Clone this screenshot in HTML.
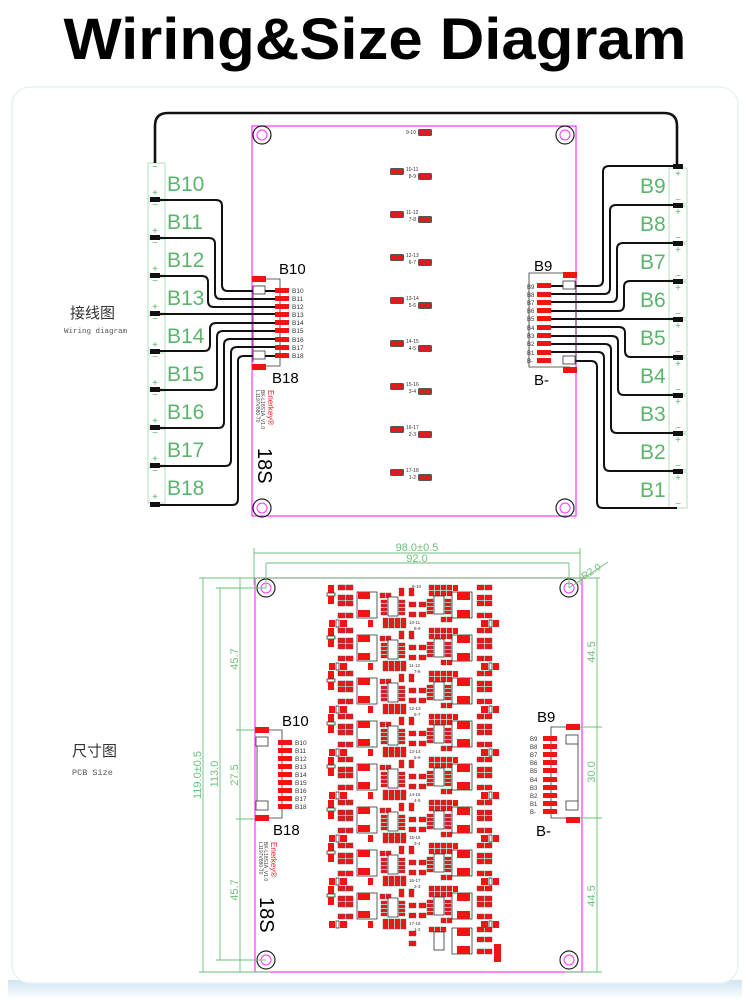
<!DOCTYPE html>
<html><head><meta charset="utf-8"><style>
html,body{margin:0;padding:0;background:#fff;width:750px;height:1000px;overflow:hidden}
svg{display:block}
</style></head><body>
<svg width="750" height="1000" viewBox="0 0 750 1000" xmlns="http://www.w3.org/2000/svg" font-family="Liberation Sans, sans-serif">
<defs>
<linearGradient id="sh" x1="0" y1="0" x2="0" y2="1"><stop offset="0" stop-color="#cfe6ee"/><stop offset="1" stop-color="#ffffff"/></linearGradient>
<g id="blk">
  <rect x="3" y="0" width="6" height="8" fill="#f01414"/>
  <rect x="2" y="8" width="8" height="3" fill="#fff" stroke="#333" stroke-width="0.8"/>
  <rect x="3" y="11" width="6" height="8" fill="#f01414"/>
  <g fill="#f01414" stroke="#555" stroke-width="0.5">
  <rect x="13" y="0" width="7" height="5"/><rect x="21" y="0" width="7" height="5"/>
  <rect x="13" y="10" width="7" height="5"/><rect x="21" y="10" width="7" height="5"/>
  <rect x="13" y="16" width="7" height="5"/><rect x="21" y="16" width="7" height="5"/>
  <rect x="13" y="28" width="7" height="5"/><rect x="21" y="28" width="7" height="5"/>
  </g>
  <rect x="4" y="35" width="6" height="7" fill="#f01414"/><rect x="11" y="35" width="3" height="7" fill="#fff" stroke="#333" stroke-width="0.8"/><rect x="15" y="35" width="7" height="7" fill="#f01414"/>
  <rect x="32" y="7" width="20" height="26" fill="none" stroke="#333" stroke-width="0.8"/>
  <rect x="33" y="7" width="12" height="7" fill="#f01414"/><rect x="33" y="25" width="12" height="7" fill="#f01414"/>
  <rect x="43" y="35" width="5" height="7" fill="#f01414"/>
  <g fill="#f01414" stroke="#555" stroke-width="0.4">
  <rect x="55" y="8" width="5" height="5"/><rect x="61" y="8" width="5" height="5"/>
  <rect x="56" y="15" width="6" height="3"/><rect x="56" y="19" width="6" height="3"/><rect x="56" y="23" width="6" height="3"/><rect x="56" y="27" width="6" height="3"/>
  <rect x="74" y="15" width="6" height="3"/><rect x="74" y="19" width="6" height="3"/><rect x="74" y="23" width="6" height="3"/><rect x="74" y="27" width="6" height="3"/>
  <rect x="58" y="33" width="5" height="5"/><rect x="64" y="33" width="5" height="5"/><rect x="70" y="33" width="5" height="5"/><rect x="76" y="33" width="5" height="5"/>
  <rect x="58" y="38" width="5" height="5"/><rect x="64" y="38" width="5" height="5"/><rect x="70" y="38" width="5" height="5"/><rect x="76" y="38" width="5" height="5"/>
  <rect x="74" y="3" width="5" height="8"/><rect x="84" y="3" width="5" height="8"/>
  <rect x="84" y="17" width="7" height="5"/><rect x="84" y="27" width="7" height="5"/>
  <rect x="94" y="17" width="7" height="5"/><rect x="94" y="27" width="7" height="5"/>
  <rect x="104" y="0" width="5" height="5"/><rect x="110" y="0" width="5" height="5"/><rect x="116" y="0" width="5" height="5"/><rect x="122" y="0" width="5" height="5"/>
  <rect x="104" y="6" width="5" height="5"/><rect x="110" y="6" width="5" height="5"/><rect x="116" y="6" width="5" height="5"/><rect x="122" y="6" width="5" height="5"/>
  <rect x="102" y="14" width="6" height="3"/><rect x="102" y="18" width="6" height="3"/><rect x="102" y="22" width="6" height="3"/><rect x="102" y="26" width="6" height="3"/>
  <rect x="120" y="14" width="6" height="3"/><rect x="120" y="18" width="6" height="3"/><rect x="120" y="22" width="6" height="3"/><rect x="120" y="26" width="6" height="3"/>
  <rect x="116" y="32" width="5" height="5"/><rect x="122" y="32" width="5" height="5"/>
  <rect x="152" y="0" width="7" height="5"/><rect x="160" y="0" width="7" height="5"/>
  <rect x="152" y="10" width="7" height="5"/><rect x="160" y="10" width="7" height="5"/>
  <rect x="152" y="16" width="7" height="5"/><rect x="160" y="16" width="7" height="5"/>
  <rect x="152" y="28" width="7" height="5"/><rect x="160" y="28" width="7" height="5"/>
  </g>
  <rect x="63" y="12" width="10" height="19" fill="#fff" stroke="#333" stroke-width="0.8"/>
  <rect x="109" y="11" width="10" height="18" fill="#fff" stroke="#333" stroke-width="0.8"/>
  <rect x="127" y="7" width="20" height="26" fill="none" stroke="#333" stroke-width="0.8"/>
  <rect x="132" y="7" width="13" height="8" fill="#f01414"/><rect x="132" y="25" width="13" height="8" fill="#f01414"/>
  <rect x="128" y="0" width="5" height="6" fill="#f01414"/>
  <rect x="156" y="35" width="7" height="7" fill="#f01414"/><rect x="164" y="35" width="3" height="7" fill="#fff" stroke="#333" stroke-width="0.8"/><rect x="168" y="35" width="6" height="7" fill="#f01414"/>
</g>
<g id="pair"><rect x="0" y="0" width="14" height="7" rx="1.5" fill="#555"/><rect x="1.5" y="1" width="5" height="5" fill="#f01414"/><rect x="7.5" y="1" width="5" height="5" fill="#f01414"/></g>
</defs>

<text x="375" y="59" text-anchor="middle" font-size="58" font-weight="bold" textLength="623" lengthAdjust="spacingAndGlyphs">Wiring&amp;Size  Diagram</text>

<rect x="8" y="980" width="734" height="20" fill="url(#sh)"/>
<rect x="12" y="87" width="726" height="896" rx="18" fill="#fff" stroke="#e8f1f4" stroke-width="1.5"/>

<!-- ===== TOP WIRING ===== -->
<rect x="252" y="126" width="324" height="390" fill="none" stroke="#ff33ff" stroke-width="1.2"/>
<g fill="none" stroke="#222" stroke-width="1.2">
<circle cx="262" cy="135" r="9"/><circle cx="565" cy="135" r="9"/><circle cx="262" cy="508" r="9"/><circle cx="565" cy="508" r="9"/>
</g>
<g fill="none" stroke="#ff33ff" stroke-width="1"><circle cx="262" cy="135" r="5"/><circle cx="565" cy="135" r="5"/><circle cx="262" cy="508" r="5"/><circle cx="565" cy="508" r="5"/></g>

<g font-size="5" fill="#333">
<use href="#pair" x="418" y="129"/><text x="416" y="134" text-anchor="end">9-10</text>
<g id="tp">
</g>
<use href="#pair" x="390" y="168"/><text x="406" y="171">10-11</text><use href="#pair" x="418" y="173"/><text x="416" y="178" text-anchor="end">8-9</text>
<use href="#pair" x="390" y="211"/><text x="406" y="214">11-12</text><use href="#pair" x="418" y="216"/><text x="416" y="221" text-anchor="end">7-8</text>
<use href="#pair" x="390" y="254"/><text x="406" y="257">12-13</text><use href="#pair" x="418" y="259"/><text x="416" y="264" text-anchor="end">6-7</text>
<use href="#pair" x="390" y="297"/><text x="406" y="300">13-14</text><use href="#pair" x="418" y="302"/><text x="416" y="307" text-anchor="end">5-6</text>
<use href="#pair" x="390" y="340"/><text x="406" y="343">14-15</text><use href="#pair" x="418" y="345"/><text x="416" y="350" text-anchor="end">4-5</text>
<use href="#pair" x="390" y="383"/><text x="406" y="386">15-16</text><use href="#pair" x="418" y="388"/><text x="416" y="393" text-anchor="end">3-4</text>
<use href="#pair" x="390" y="426"/><text x="406" y="429">16-17</text><use href="#pair" x="418" y="431"/><text x="416" y="436" text-anchor="end">2-3</text>
<use href="#pair" x="390" y="469"/><text x="406" y="472">17-18</text><use href="#pair" x="418" y="474"/><text x="416" y="479" text-anchor="end">1-2</text>
</g>

<!-- left cells -->
<g fill="none" stroke="#b5dcbc" stroke-width="1">
<rect x="148" y="163" width="17" height="36"/><rect x="148" y="201" width="17" height="36"/><rect x="148" y="239" width="17" height="36"/>
<rect x="148" y="277" width="17" height="36"/><rect x="148" y="315" width="17" height="36"/><rect x="148" y="353" width="17" height="36"/>
<rect x="148" y="391" width="17" height="36"/><rect x="148" y="429" width="17" height="36"/><rect x="148" y="467" width="17" height="36"/>
</g>
<g fill="#5cb46c" font-size="21">
<text x="167" y="191">B10</text><text x="167" y="229">B11</text><text x="167" y="267">B12</text><text x="167" y="305">B13</text><text x="167" y="343">B14</text><text x="167" y="381">B15</text><text x="167" y="419">B16</text><text x="167" y="457">B17</text><text x="167" y="495">B18</text>
</g>
<g fill="#5cb46c" font-size="10" text-anchor="middle">
<text x="155" y="170">−</text><text x="155" y="196">+</text><text x="155" y="208">−</text><text x="155" y="234">+</text><text x="155" y="246">−</text><text x="155" y="272">+</text>
<text x="155" y="284">−</text><text x="155" y="310">+</text><text x="155" y="322">−</text><text x="155" y="348">+</text><text x="155" y="360">−</text><text x="155" y="386">+</text>
<text x="155" y="398">−</text><text x="155" y="424">+</text><text x="155" y="436">−</text><text x="155" y="462">+</text><text x="155" y="474">−</text><text x="155" y="500">+</text>
</g>
<!-- right cells -->
<g fill="none" stroke="#b5dcbc" stroke-width="1">
<rect x="669" y="168" width="18" height="36"/><rect x="669" y="206" width="18" height="36"/><rect x="669" y="244" width="18" height="36"/>
<rect x="669" y="282" width="18" height="36"/><rect x="669" y="320" width="18" height="36"/><rect x="669" y="358" width="18" height="36"/>
<rect x="669" y="396" width="18" height="36"/><rect x="669" y="434" width="18" height="36"/><rect x="669" y="472" width="18" height="36"/>
</g>
<g fill="#5cb46c" font-size="21">
<text x="640" y="193">B9</text><text x="640" y="231">B8</text><text x="640" y="269">B7</text><text x="640" y="307">B6</text><text x="640" y="345">B5</text><text x="640" y="383">B4</text><text x="640" y="421">B3</text><text x="640" y="459">B2</text><text x="640" y="497">B1</text>
</g>
<g fill="#5cb46c" font-size="10" text-anchor="middle">
<text x="678" y="177">+</text><text x="678" y="203">−</text><text x="678" y="215">+</text><text x="678" y="241">−</text><text x="678" y="253">+</text><text x="678" y="279">−</text>
<text x="678" y="291">+</text><text x="678" y="317">−</text><text x="678" y="329">+</text><text x="678" y="355">−</text><text x="678" y="367">+</text><text x="678" y="393">−</text>
<text x="678" y="405">+</text><text x="678" y="431">−</text><text x="678" y="443">+</text><text x="678" y="469">−</text><text x="678" y="481">+</text><text x="678" y="507">−</text>
</g>

<!-- wires -->
<g fill="none" stroke="#111" stroke-width="2" stroke-linejoin="round">
<path d="M155 163 V126 Q155 113 168 113 H664 Q677 113 677 126 V166" stroke-width="2.6"/>
<path d="M155 200 H216 Q222 200 222 206 V285 Q222 291 228 291 H275"/>
<path d="M155 238 H209 Q215 238 215 244 V293 Q215 299 221 299 H275"/>
<path d="M155 276 H202 Q208 276 208 282 V301 Q208 307 214 307 H275"/>
<path d="M155 314 H275"/>
<path d="M155 351 H204 Q210 351 210 345 V329 Q210 323 216 323 H275"/>
<path d="M155 390 H211 Q217 390 217 384 V337 Q217 331 223 331 H275"/>
<path d="M155 428 H218 Q224 428 224 422 V345 Q224 339 230 339 H275"/>
<path d="M155 466 H225 Q231 466 231 460 V353 Q231 347 237 347 H275"/>
<path d="M155 505 H232 Q238 505 238 499 V361 Q238 356 244 356 H275"/>

<path d="M550 286 H597 Q603 286 603 280 V172 Q603 166 609 166 H677"/>
<path d="M550 294 H604 Q610 294 610 288 V211 Q610 205 616 205 H677"/>
<path d="M550 302 H611 Q617 302 617 296 V249 Q617 243 623 243 H677"/>
<path d="M550 311 H618 Q624 311 624 305 V287 Q624 281 630 281 H677"/>
<path d="M550 319 H677"/>
<path d="M550 327 H619 Q625 327 625 333 V351 Q625 357 631 357 H677"/>
<path d="M550 336 H612 Q618 336 618 342 V389 Q618 395 624 395 H677"/>
<path d="M550 344 H605 Q611 344 611 350 V427 Q611 433 617 433 H677"/>
<path d="M550 352 H598 Q604 352 604 358 V465 Q604 471 610 471 H677"/>
<path d="M565 361 H591 Q597 361 597 367 V502 Q597 508 603 508 H677"/>
</g>
<g fill="#111">
<rect x="150" y="197" width="10" height="5"/><rect x="150" y="235" width="10" height="5"/><rect x="150" y="273" width="10" height="5"/><rect x="150" y="311" width="10" height="5"/><rect x="150" y="349" width="10" height="5"/><rect x="150" y="387" width="10" height="5"/><rect x="150" y="425" width="10" height="5"/><rect x="150" y="463" width="10" height="5"/><rect x="150" y="502" width="10" height="5"/>
<rect x="673" y="164" width="10" height="5"/><rect x="673" y="203" width="10" height="5"/><rect x="673" y="241" width="10" height="5"/><rect x="673" y="279" width="10" height="5"/><rect x="673" y="317" width="10" height="5"/><rect x="673" y="355" width="10" height="5"/><rect x="673" y="393" width="10" height="5"/><rect x="673" y="431" width="10" height="5"/><rect x="673" y="469" width="10" height="5"/>
</g>

<!-- left connector top -->
<g stroke="#333" stroke-width="0.8" fill="none">
<path d="M258 279 H280 V366 H258"/><rect x="253" y="286" width="12" height="8" fill="#fff"/><rect x="253" y="351" width="12" height="8" fill="#fff"/>
<line x1="253" y1="286" x2="253" y2="362"/>
</g>
<rect x="252" y="276" width="14" height="6" fill="#f01414"/><rect x="252" y="364" width="14" height="6" fill="#f01414"/>
<g fill="#f01414">
<rect x="275" y="288" width="14" height="5"/><rect x="275" y="296" width="14" height="5"/><rect x="275" y="304" width="14" height="5"/><rect x="275" y="312" width="14" height="5"/><rect x="275" y="320" width="14" height="5"/><rect x="275" y="328" width="14" height="5"/><rect x="275" y="337" width="14" height="5"/><rect x="275" y="345" width="14" height="5"/><rect x="275" y="353" width="14" height="5"/>
</g>
<g font-size="6.5" fill="#333">
<text x="292" y="293">B10</text><text x="292" y="301">B11</text><text x="292" y="309">B12</text><text x="292" y="317">B13</text><text x="292" y="325">B14</text><text x="292" y="333">B15</text><text x="292" y="342">B16</text><text x="292" y="350">B17</text><text x="292" y="358">B18</text>
</g>
<text x="279" y="274" font-size="15">B10</text><text x="272" y="383" font-size="15">B18</text>
<g transform="translate(268,390) rotate(90)"><text x="0" y="0" font-size="8" fill="#e82020">Enerkey®</text><text x="0" y="7" font-size="5" fill="#444">BK-L18S1A_V1.0</text><text x="0" y="12" font-size="5" fill="#444">L1197V880-70</text></g>
<text transform="translate(258,448) rotate(90)" font-size="20">18S</text>

<!-- right connector top -->
<g stroke="#333" stroke-width="0.8" fill="none">
<path d="M570 273 H529 V367 H570"/><rect x="563" y="281" width="12" height="8" fill="#fff"/><rect x="563" y="356" width="12" height="8" fill="#fff"/>
<line x1="576" y1="281" x2="576" y2="364"/>
</g>
<rect x="563" y="272" width="14" height="6" fill="#f01414"/><rect x="563" y="367" width="14" height="6" fill="#f01414"/>
<g fill="#f01414">
<rect x="537" y="283" width="14" height="5"/><rect x="537" y="292" width="14" height="5"/><rect x="537" y="300" width="14" height="5"/><rect x="537" y="308" width="14" height="5"/><rect x="537" y="316" width="14" height="5"/><rect x="537" y="325" width="14" height="5"/><rect x="537" y="333" width="14" height="5"/><rect x="537" y="341" width="14" height="5"/><rect x="537" y="350" width="14" height="5"/><rect x="537" y="358" width="14" height="5"/>
</g>
<g font-size="6" fill="#333">
<text x="527" y="289">B9</text><text x="527" y="297">B8</text><text x="527" y="305">B7</text><text x="527" y="313">B6</text><text x="527" y="321">B5</text><text x="527" y="330">B4</text><text x="527" y="338">B3</text><text x="527" y="346">B2</text><text x="527" y="355">B1</text><text x="527" y="363">B-</text>
</g>
<text x="534" y="271" font-size="15">B9</text><text x="534" y="385" font-size="15">B-</text>

<text x="70" y="318" font-size="15" font-family="Liberation Sans, Noto Sans CJK SC, sans-serif" fill="#333">接线图</text>
<text x="64" y="333" font-size="7.5" font-family="Liberation Mono, monospace" fill="#555">Wiring diagram</text>

<!-- ===== BOTTOM SIZE ===== -->
<text x="72" y="756" font-size="15" font-family="Liberation Sans, Noto Sans CJK SC, sans-serif" fill="#333">尺寸图</text>
<text x="72" y="775" font-size="8.5" font-family="Liberation Mono, monospace" fill="#555">PCB Size</text>

<rect x="255" y="578" width="327" height="394" fill="none" stroke="#ff33ff" stroke-width="1.2"/>
<g fill="none" stroke="#222" stroke-width="1.2">
<circle cx="266" cy="588" r="9"/><circle cx="569" cy="588" r="9"/><circle cx="266" cy="960" r="9"/><circle cx="569" cy="960" r="9"/>
</g>
<g fill="none" stroke="#ff33ff" stroke-width="1"><circle cx="266" cy="588" r="5"/><circle cx="569" cy="588" r="5"/><circle cx="266" cy="960" r="5"/><circle cx="569" cy="960" r="5"/></g>

<!-- dimensions -->
<g stroke="#6cc07a" stroke-width="0.9" fill="none">
<line x1="254" y1="548" x2="254" y2="585"/><line x1="580" y1="548" x2="580" y2="585"/>
<line x1="254" y1="553" x2="580" y2="553"/>
<line x1="266" y1="563" x2="266" y2="588"/><line x1="569" y1="563" x2="569" y2="588"/>
<line x1="266" y1="563" x2="569" y2="563"/>
<line x1="199" y1="578" x2="600" y2="578"/>
<line x1="569" y1="588" x2="608" y2="562"/>
<line x1="203" y1="578" x2="203" y2="972"/><line x1="199" y1="972" x2="270" y2="972"/>
<line x1="220" y1="588" x2="220" y2="960"/><line x1="216" y1="588" x2="266" y2="588"/><line x1="216" y1="960" x2="266" y2="960"/>
<line x1="240" y1="578" x2="240" y2="972"/><line x1="236" y1="730" x2="264" y2="730"/><line x1="236" y1="819" x2="264" y2="819"/>
<line x1="597" y1="578" x2="597" y2="972"/><line x1="565" y1="727" x2="602" y2="727"/><line x1="565" y1="818" x2="602" y2="818"/><line x1="565" y1="972" x2="602" y2="972"/>
</g>
<g fill="#6cc07a" font-size="11">
<text x="417" y="551" text-anchor="middle">98.0±0.5</text>
<text x="417" y="562" text-anchor="middle">92.0</text>
<text transform="translate(584,580) rotate(-33)" font-size="10">R2.0</text>
<text transform="translate(201,775) rotate(-90)" text-anchor="middle">119.0±0.5</text>
<text transform="translate(218,774) rotate(-90)" text-anchor="middle">113.0</text>
<text transform="translate(238,659) rotate(-90)" text-anchor="middle">45.7</text>
<text transform="translate(238,775) rotate(-90)" text-anchor="middle">27.5</text>
<text transform="translate(238,890) rotate(-90)" text-anchor="middle">45.7</text>
<text transform="translate(595,652) rotate(-90)" text-anchor="middle">44.5</text>
<text transform="translate(595,772) rotate(-90)" text-anchor="middle">30.0</text>
<text transform="translate(595,896) rotate(-90)" text-anchor="middle">44.5</text>
</g>

<!-- components -->
<use href="#blk" x="325" y="585"/>
<use href="#blk" x="325" y="628"/>
<use href="#blk" x="325" y="671"/>
<use href="#blk" x="325" y="714"/>
<use href="#blk" x="325" y="757"/>
<use href="#blk" x="325" y="800"/>
<use href="#blk" x="325" y="843"/>
<use href="#blk" x="325" y="886"/>
<g fill="#f01414" stroke="#555" stroke-width="0.4">
<rect x="409" y="931" width="7" height="5"/><rect x="409" y="941" width="7" height="5"/>
<rect x="429" y="927" width="5" height="5"/><rect x="435" y="927" width="5" height="5"/><rect x="441" y="927" width="5" height="5"/>
<rect x="477" y="927" width="7" height="5"/><rect x="485" y="927" width="7" height="5"/><rect x="477" y="937" width="7" height="5"/><rect x="485" y="937" width="7" height="5"/><rect x="477" y="949" width="7" height="5"/><rect x="485" y="949" width="7" height="5"/>
</g>
<rect x="434" y="932" width="10" height="18" fill="#fff" stroke="#333" stroke-width="0.8"/>
<rect x="452" y="928" width="20" height="26" fill="none" stroke="#333" stroke-width="0.8"/>
<rect x="457" y="928" width="13" height="8" fill="#f01414"/><rect x="457" y="946" width="13" height="8" fill="#f01414"/>
<rect x="494" y="944" width="7" height="18" fill="#f01414"/>
<g font-size="4.5" fill="#333">
<text x="412" y="588">9-10</text>
<text x="409" y="624">10-11</text><text x="414" y="630">8-9</text>
<text x="409" y="667">11-12</text><text x="414" y="673">7-8</text>
<text x="409" y="710">12-13</text><text x="414" y="716">6-7</text>
<text x="409" y="753">13-14</text><text x="414" y="759">5-6</text>
<text x="409" y="796">14-15</text><text x="414" y="802">4-5</text>
<text x="409" y="839">15-16</text><text x="414" y="845">3-4</text>
<text x="409" y="882">16-17</text><text x="414" y="888">2-3</text>
<text x="409" y="925">17-18</text><text x="414" y="931">1-2</text>
</g>

<!-- left connector bottom -->
<g stroke="#333" stroke-width="0.8" fill="none">
<path d="M262 730 H282 V818 H262"/><rect x="256" y="737" width="12" height="9" fill="#fff"/><rect x="256" y="801" width="12" height="9" fill="#fff"/>
<line x1="257" y1="746" x2="257" y2="801"/>
</g>
<rect x="255" y="727" width="14" height="6" fill="#f01414"/><rect x="255" y="815" width="14" height="6" fill="#f01414"/>
<g fill="#f01414">
<rect x="278" y="740" width="14" height="5"/><rect x="278" y="748" width="14" height="5"/><rect x="278" y="756" width="14" height="5"/><rect x="278" y="764" width="14" height="5"/><rect x="278" y="772" width="14" height="5"/><rect x="278" y="780" width="14" height="5"/><rect x="278" y="788" width="14" height="5"/><rect x="278" y="796" width="14" height="5"/><rect x="278" y="804" width="14" height="5"/>
</g>
<g font-size="6.5" fill="#333">
<text x="295" y="745">B10</text><text x="295" y="753">B11</text><text x="295" y="761">B12</text><text x="295" y="769">B13</text><text x="295" y="777">B14</text><text x="295" y="785">B15</text><text x="295" y="793">B16</text><text x="295" y="801">B17</text><text x="295" y="809">B18</text>
</g>
<text x="282" y="726" font-size="15">B10</text><text x="273" y="835" font-size="15">B18</text>
<g transform="translate(271,842) rotate(90)"><text x="0" y="0" font-size="8" fill="#e82020">Enerkey®</text><text x="0" y="7" font-size="5" fill="#444">BK-L18S1A_V1.0</text><text x="0" y="12" font-size="5" fill="#444">L1197V880-70</text></g>
<text transform="translate(260,897) rotate(90)" font-size="20">18S</text>

<!-- right connector bottom -->
<g stroke="#333" stroke-width="0.8" fill="none">
<path d="M572 727 H551 V818 H572"/><rect x="566" y="735" width="12" height="9" fill="#fff"/><rect x="566" y="801" width="12" height="9" fill="#fff"/>
<line x1="578" y1="744" x2="578" y2="801"/>
</g>
<rect x="566" y="724" width="14" height="6" fill="#f01414"/><rect x="566" y="817" width="14" height="6" fill="#f01414"/>
<g fill="#f01414">
<rect x="543" y="736" width="14" height="5"/><rect x="543" y="744" width="14" height="5"/><rect x="543" y="752" width="14" height="5"/><rect x="543" y="760" width="14" height="5"/><rect x="543" y="768" width="14" height="5"/><rect x="543" y="777" width="14" height="5"/><rect x="543" y="785" width="14" height="5"/><rect x="543" y="793" width="14" height="5"/><rect x="543" y="801" width="14" height="5"/><rect x="543" y="809" width="14" height="5"/>
</g>
<g font-size="6" fill="#333">
<text x="530" y="741">B9</text><text x="530" y="749">B8</text><text x="530" y="757">B7</text><text x="530" y="765">B6</text><text x="530" y="773">B5</text><text x="530" y="782">B4</text><text x="530" y="790">B3</text><text x="530" y="798">B2</text><text x="530" y="806">B1</text><text x="530" y="814">B-</text>
</g>
<text x="537" y="722" font-size="15">B9</text><text x="536" y="836" font-size="15">B-</text>
</svg>
</body></html>
